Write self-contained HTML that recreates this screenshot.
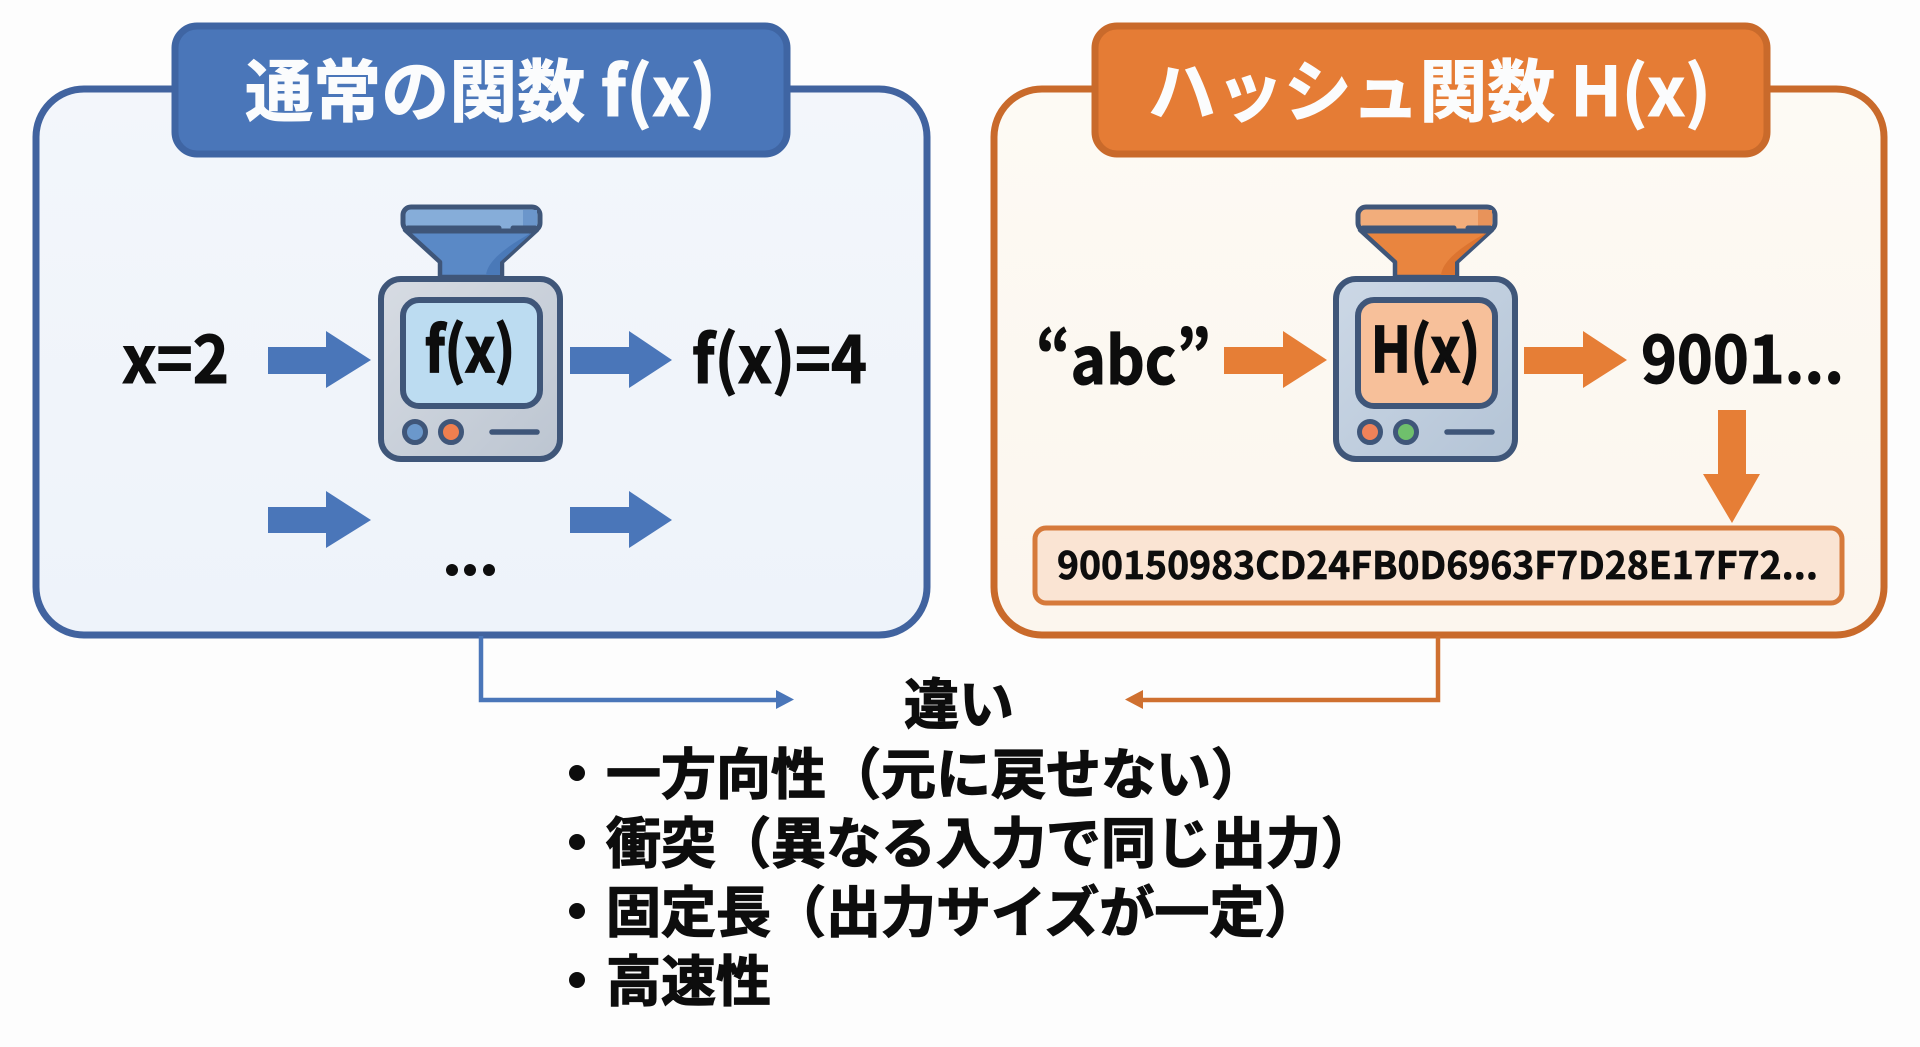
<!DOCTYPE html>
<html lang="ja"><head><meta charset="utf-8"><style>
html,body{margin:0;padding:0;background:#fdfdfd;width:1920px;height:1047px;overflow:hidden}
svg{display:block}
text{font-family:"Noto Sans CJK JP","Liberation Sans",sans-serif;font-weight:700;fill:#0d0d0d;stroke:#0d0d0d;stroke-width:1.1px}
.t{font-size:68px;fill:#fbfcfd;stroke:#fbfcfd;stroke-width:1px}
.l{font-size:65px}
.m{font-size:62px;stroke-width:1.8px}
.b{font-size:55px;stroke-width:1.3px}
</style></head><body>
<svg width="1920" height="1047" viewBox="0 0 1920 1047" xmlns="http://www.w3.org/2000/svg">
<defs>
<linearGradient id="pb" x1="0" y1="0" x2="0" y2="1"><stop offset="0" stop-color="#f3f6fb"/><stop offset="1" stop-color="#eef3fa"/></linearGradient>
<linearGradient id="po" x1="0" y1="0" x2="0" y2="1"><stop offset="0" stop-color="#fdfaf4"/><stop offset="1" stop-color="#fcf6ee"/></linearGradient>
<linearGradient id="bd" x1="0" y1="0" x2="1" y2="1"><stop offset="0" stop-color="#d7dce3"/><stop offset="1" stop-color="#bcc5d1"/></linearGradient>
<linearGradient id="bd2" x1="0" y1="0" x2="1" y2="1"><stop offset="0" stop-color="#ccd8e6"/><stop offset="1" stop-color="#b4c4d6"/></linearGradient>
</defs>

<!-- left panel -->
<rect x="36" y="89" width="891" height="546" rx="48" fill="url(#pb)" stroke="#41639f" stroke-width="7"/>
<rect x="175" y="26" width="612" height="128" rx="22" fill="#4a76b9" stroke="#3f65a3" stroke-width="7"/>
<text class="t" x="245" y="116" textLength="471" lengthAdjust="spacing">通常の関数 f(x)</text>

<!-- right panel -->
<rect x="994" y="89" width="890" height="546" rx="48" fill="url(#po)" stroke="#c96a2b" stroke-width="7"/>
<rect x="1095" y="26" width="672" height="128" rx="22" fill="#e57c35" stroke="#c96a2b" stroke-width="7"/>
<text class="t" x="1148" y="116" textLength="563" lengthAdjust="spacing">ハッシュ関数 H(x)</text>

<!-- left machine -->
<g>
<path d="M405 230L440 262V277H502V262L537 230Z" fill="#5a89c6" stroke="#3f5679" stroke-width="4.5" stroke-linejoin="round"/>
<path d="M486 275Q488 256 533 232L500 262V275Z" fill="#4a79b8"/>
<rect x="403" y="207" width="137" height="24" rx="8" fill="#86add9" stroke="#3f5679" stroke-width="5"/>
<rect x="523" y="210" width="14" height="16" fill="#6b96cb"/>
<path d="M408 228H499M513 228H535" stroke="#3f5679" stroke-width="5" stroke-linecap="round" fill="none"/>
<rect x="381" y="279" width="179" height="180" rx="20" fill="url(#bd)" stroke="#3f5679" stroke-width="6"/>
<rect x="403" y="300" width="137" height="106" rx="16" fill="#bcdcf1" stroke="#3f5679" stroke-width="6"/>
<circle cx="415" cy="432" r="10.5" fill="#6b98cb" stroke="#3f5679" stroke-width="5"/>
<circle cx="451" cy="432" r="10.5" fill="#ef7f4f" stroke="#3f5679" stroke-width="5"/>
<path d="M492 432H537" stroke="#3f5679" stroke-width="5.5" stroke-linecap="round"/>
</g>
<text class="m" x="425" y="372" textLength="90" lengthAdjust="spacingAndGlyphs">f(x)</text>

<!-- right machine -->
<g>
<path d="M1360 230L1395 262V277H1457V262L1492 230Z" fill="#e9853f" stroke="#3f5679" stroke-width="4.5" stroke-linejoin="round"/>
<path d="M1441 275Q1443 256 1488 232L1455 262V275Z" fill="#dc7430"/>
<rect x="1358" y="207" width="137" height="24" rx="8" fill="#f2ad7b" stroke="#3f5679" stroke-width="5"/>
<rect x="1478" y="210" width="14" height="16" fill="#e8935a"/>
<path d="M1363 228H1454M1468 228H1490" stroke="#3f5679" stroke-width="5" stroke-linecap="round" fill="none"/>
<rect x="1336" y="279" width="179" height="180" rx="20" fill="url(#bd2)" stroke="#3f5679" stroke-width="6"/>
<rect x="1358" y="300" width="137" height="106" rx="16" fill="#f7c09a" stroke="#3f5679" stroke-width="6"/>
<circle cx="1370" cy="432" r="10.5" fill="#f08259" stroke="#3f5679" stroke-width="5"/>
<circle cx="1406" cy="432" r="10.5" fill="#6fc06c" stroke="#3f5679" stroke-width="5"/>
<path d="M1447 432H1492" stroke="#3f5679" stroke-width="5.5" stroke-linecap="round"/>
</g>
<text class="m" x="1371" y="372" textLength="109" lengthAdjust="spacingAndGlyphs">H(x)</text>

<!-- block arrows left -->
<g fill="#4a76b9">
<path d="M268 347H326V331L371 360L326 388V374H268Z"/>
<path d="M570 347H629V331L672 360L629 388V374H570Z"/>
<path d="M268 507H326V491L371 520L326 548V533H268Z"/>
<path d="M570 507H629V491L672 520L629 548V533H570Z"/>
</g>
<circle cx="452" cy="570" r="6" fill="#0d0d0d"/><circle cx="470" cy="570" r="6" fill="#0d0d0d"/><circle cx="489" cy="570" r="6" fill="#0d0d0d"/>

<!-- block arrows right -->
<g fill="#e67e36">
<path d="M1224 347H1283V331L1327 360L1283 388V374H1224Z"/>
<path d="M1524 347H1583V331L1627 360L1583 388V374H1524Z"/>
<path d="M1718 410H1746V474H1760L1732 523L1703 474H1718Z"/>
</g>

<!-- labels -->
<text class="l" x="122" y="383" textLength="107" lengthAdjust="spacingAndGlyphs">x=2</text>
<text class="l" x="692" y="383" textLength="175" lengthAdjust="spacingAndGlyphs">f(x)=4</text>
<text class="l" x="1036" y="384" textLength="175" lengthAdjust="spacingAndGlyphs">“abc”</text>
<text class="l" x="1641" y="383" textLength="203" lengthAdjust="spacingAndGlyphs">9001...</text>

<!-- result box -->
<rect x="1035" y="528" width="807" height="75" rx="11" fill="#fae4d3" stroke="#d67a3b" stroke-width="5"/>
<text x="1057" y="579" textLength="761" lengthAdjust="spacingAndGlyphs" style="font-size:38px;stroke-width:.7px">900150983CD24FB0D6963F7D28E17F72...</text>

<!-- connectors -->
<path d="M481 636V700H778" fill="none" stroke="#4a76b9" stroke-width="4.5"/>
<path d="M776 690L794 699.5L776 709Z" fill="#4a76b9"/>
<path d="M1438 636V700H1141" fill="none" stroke="#cf7030" stroke-width="4.5"/>
<path d="M1143 690L1125 699.5L1143 709Z" fill="#cf7030"/>

<!-- bottom text -->
<text x="904" y="724" style="font-size:55px;stroke-width:1.3px">違い</text>
<g fill="#0d0d0d">
<circle cx="577" cy="773" r="8"/><circle cx="577" cy="842" r="8"/><circle cx="577" cy="911" r="8"/><circle cx="577" cy="980" r="8"/>
</g>
<text class="b" x="606" y="794">一方向性（元に戻せない）</text>
<text class="b" x="606" y="863">衝突（異なる入力で同じ出力）</text>
<text class="b" x="606" y="932">固定長（出力サイズが一定）</text>
<text class="b" x="606" y="1001">高速性</text>
</svg>
</body></html>
